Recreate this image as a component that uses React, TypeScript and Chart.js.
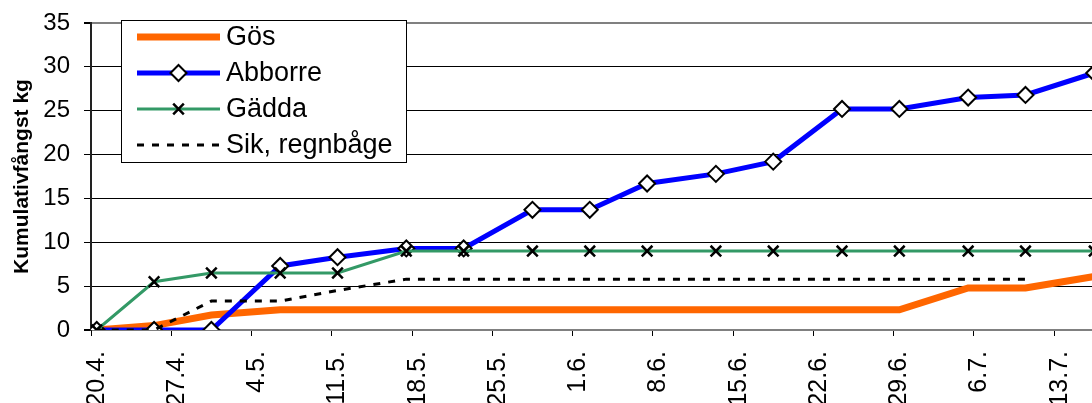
import React, { useEffect, useRef } from "react";
import { Chart, registerables } from "chart.js";

Chart.register(...registerables);

// Days counted from 20.4. (day 0) on which each cumulative value was recorded
const sampleDays = [0, 5, 10, 16, 21, 27, 32, 38, 43, 48, 54, 59, 65, 70, 76, 81, 87];
const sampleDates = ["20.4.", "25.4.", "30.4.", "6.5.", "11.5.", "17.5.", "22.5.", "28.5.", "2.6.", "7.6.", "13.6.", "18.6.", "24.6.", "29.6.", "5.7.", "10.7.", "16.7."];

const gos = [0, 0.5, 1.7, 2.3, 2.3, 2.3, 2.3, 2.3, 2.3, 2.3, 2.3, 2.3, 2.3, 2.3, 4.8, 4.8, 6.1];
const abborre = [0, 0, 0, 7.3, 8.3, 9.3, 9.3, 13.7, 13.7, 16.7, 17.8, 19.2, 25.2, 25.2, 26.5, 26.8, 29.3];
const gadda = [0, 5.5, 6.5, 6.5, 6.5, 9, 9, 9, 9, 9, 9, 9, 9, 9, 9, 9, 9];
const sik = [0, 0, 3.3, 3.3, 4.5, 5.8, 5.8, 5.8, 5.8, 5.8, 5.8, 5.8, 5.8, 5.8, 5.8, 5.8, null];

const tickDays = [0, 7, 14, 21, 28, 35, 42, 49, 56, 63, 70, 77, 84];
const tickLabels = ["20.4.", "27.4.", "4.5.", "11.5.", "18.5.", "25.5.", "1.6.", "8.6.", "15.6.", "22.6.", "29.6.", "6.7.", "13.7."];

const yMin = 0;
const yMax = 35;
const yStep = 5;

const FONT = '"Liberation Sans", Arial, Helvetica, sans-serif';

function toPoints(values: (number | null)[]) {
  // each catch day spans one day on the axis; the value is plotted at its middle
  return values.map((v, i) => ({ x: sampleDays[i] + 0.5, y: v, date: sampleDates[i] }));
}

const legendPlugin = {
  id: "boxLegend",
  afterDraw(chart: any) {
    const ctx = chart.ctx as CanvasRenderingContext2D;
    const bx = 121, by = 20, bw = 285, bh = 142;
    ctx.save();
    ctx.fillStyle = "#ffffff";
    ctx.fillRect(bx, by, bw, bh);
    ctx.strokeStyle = "#000000";
    ctx.lineWidth = 1;
    ctx.setLineDash([]);
    ctx.strokeRect(bx + 0.5, by + 0.5, bw, bh);
    chart.data.datasets.forEach((ds: any, i: number) => {
      const y = 37 + i * 36;
      const x0 = 137, x1 = 220, xm = (x0 + x1) / 2;
      ctx.save();
      ctx.strokeStyle = ds.borderColor;
      ctx.lineWidth = ds.borderWidth;
      ctx.setLineDash(ds.borderDash || []);
      ctx.beginPath();
      ctx.moveTo(x0, y);
      ctx.lineTo(x1, y);
      ctx.stroke();
      ctx.setLineDash([]);
      if (ds.pointStyle === "rectRot" && ds.pointRadius > 0) {
        const r = ds.pointRadius;
        ctx.beginPath();
        ctx.moveTo(xm - r, y);
        ctx.lineTo(xm, y - r);
        ctx.lineTo(xm + r, y);
        ctx.lineTo(xm, y + r);
        ctx.closePath();
        ctx.fillStyle = ds.pointBackgroundColor;
        ctx.fill();
        ctx.lineWidth = ds.pointBorderWidth;
        ctx.strokeStyle = ds.pointBorderColor;
        ctx.stroke();
      } else if (ds.pointStyle === "crossRot" && ds.pointRadius > 0) {
        const r = ds.pointRadius * Math.SQRT1_2;
        ctx.beginPath();
        ctx.moveTo(xm - r, y - r);
        ctx.lineTo(xm + r, y + r);
        ctx.moveTo(xm - r, y + r);
        ctx.lineTo(xm + r, y - r);
        ctx.lineWidth = ds.pointBorderWidth;
        ctx.strokeStyle = ds.pointBorderColor;
        ctx.stroke();
      }
      ctx.restore();
      ctx.fillStyle = "#000000";
      ctx.font = `27px ${FONT}`;
      ctx.textBaseline = "middle";
      ctx.textAlign = "left";
      ctx.fillText(ds.label, 226, y + 1);
    });
    ctx.restore();
  },
};

export default function App() {
  const canvasRef = useRef<HTMLCanvasElement | null>(null);

  useEffect(() => {
    const canvas = canvasRef.current;
    if (!canvas) return;
    Chart.defaults.font.family = FONT;
    const chart = new Chart(canvas, {
      type: "line",
      data: {
        datasets: [
          {
            label: "Gös",
            data: toPoints(gos),
            borderColor: "#FF6600",
            backgroundColor: "#FF6600",
            borderWidth: 7,
            pointRadius: 0,
            order: 4,
          },
          {
            label: "Abborre",
            data: toPoints(abborre),
            borderColor: "#0000FF",
            backgroundColor: "#0000FF",
            borderWidth: 5,
            pointStyle: "rectRot",
            pointRadius: 8,
            pointBackgroundColor: "#ffffff",
            pointBorderColor: "#000000",
            pointBorderWidth: 2,
            order: 3,
          },
          {
            label: "Gädda",
            data: toPoints(gadda),
            borderColor: "#339966",
            backgroundColor: "#339966",
            borderWidth: 3,
            pointStyle: "crossRot",
            pointRadius: 7.5,
            pointBackgroundColor: "#000000",
            pointBorderColor: "#000000",
            pointBorderWidth: 2.5,
            order: 2,
          },
          {
            label: "Sik, regnbåge",
            data: toPoints(sik),
            borderColor: "#000000",
            backgroundColor: "#000000",
            borderWidth: 3,
            borderDash: [7, 8],
            pointRadius: 0,
            spanGaps: false,
            order: 1,
          },
        ] as any,
      },
      options: {
        animation: false,
        responsive: false,
        devicePixelRatio: 1,
        layout: { padding: { top: 23, right: 3, left: 0, bottom: 0 } },
        elements: { line: { tension: 0 } },
        plugins: {
          legend: { display: false },
          tooltip: { enabled: false },
        },
        scales: {
          x: {
            type: "linear",
            min: 0,
            max: 88,
            afterBuildTicks: (scale: any) => {
              scale.ticks = tickDays.map((v) => ({ value: v }));
            },
            afterFit: (scale: any) => {
              scale.height = 73;
            },
            ticks: {
              autoSkip: false,
              minRotation: 90,
              maxRotation: 90,
              padding: 15,
              labelOffset: 5.7,
              color: "#000000",
              font: { size: 25, family: FONT },
              callback: (_v: any, i: number) => tickLabels[i],
            },
            grid: {
              drawOnChartArea: false,
              drawTicks: true,
              tickLength: 6,
              color: "#000000",
              tickColor: "#000000",
            },
            border: { display: true, color: "#808080", width: 2 },
          },
          y: {
            type: "linear",
            min: yMin,
            max: yMax,
            afterFit: (scale: any) => {
              scale.width = 91;
              scale.paddingTop = 0;
              scale.paddingBottom = 0;
            },
            ticks: {
              stepSize: yStep,
              padding: 14,
              color: "#000000",
              font: { size: 24, family: FONT },
            },
            grid: {
              color: (c: any) => (c.tick && (c.tick.value === yMax || c.tick.value === yMin) ? "#808080" : "#000000"),
              lineWidth: (c: any) => (c.tick && (c.tick.value === yMax || c.tick.value === yMin) ? 2 : 1),
              tickColor: "#000000",
              tickLength: 7,
            },
            border: { display: true, color: "#222222", width: 2 },
            title: {
              display: true,
              text: "Kumulativfångst kg",
              color: "#000000",
              font: { size: 21, weight: "bold", family: FONT },
              padding: { top: 10, bottom: 0 },
            },
          },
        },
      } as any,
      plugins: [legendPlugin],
    });
    return () => chart.destroy();
  }, []);

  return (
    <div
      style={{
        position: "fixed",
        left: 0,
        top: 0,
        width: 1092,
        height: 403,
        overflow: "hidden",
        background: "#ffffff",
      }}
    >
      <canvas ref={canvasRef} width={1110} height={403} style={{ display: "block", width: 1110, height: 403 }} />
    </div>
  );
}
